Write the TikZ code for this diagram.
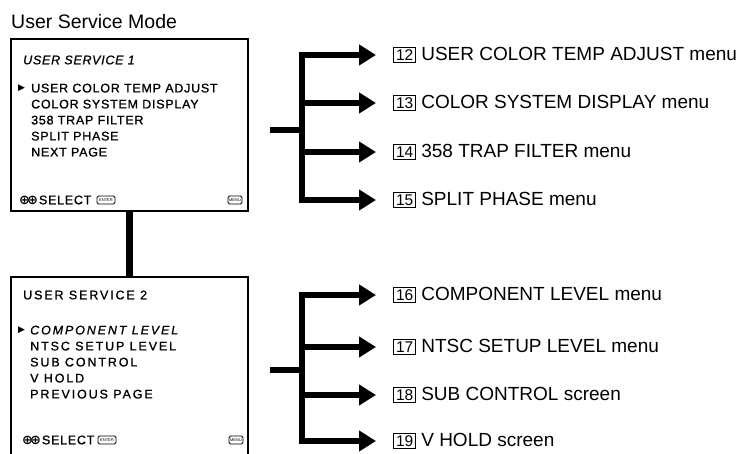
\documentclass[tikz,border=0pt]{standalone}
\usepackage{fontspec}
\setmainfont{Liberation Sans}
\newfontfamily\osdfont[LetterSpace=6, FakeBold=1]{Liberation Sans}
\newfontfamily\osdwidefont[LetterSpace=15, FakeBold=1]{Liberation Sans}
\newfontfamily\symfont{DejaVu Sans}
\usetikzlibrary{arrows.meta, positioning}

\newcommand{\numbox}[1]{{\setlength\fboxsep{2pt}\setlength\fboxrule{0.8pt}\fbox{\fontsize{15.5}{15}\selectfont #1}}}

\begin{document}
\begin{tikzpicture}[
    x=1pt, y=-1pt,
    osdbox/.style={draw, line width=1.4pt, inner sep=0, outer sep=0},
    osdtext/.style={inner sep=0, align=left, font=\osdfont\fontsize{12.5}{16}\selectfont},
    osdwide/.style={osdtext, font=\osdwidefont\fontsize{12.5}{16}\selectfont},
    cursor/.style={anchor=west, inner sep=0, font=\symfont\fontsize{9}{9}\selectfont},
    keyicon/.style={draw, line width=0.9pt, rounded corners=1.5pt, inner sep=0.5pt, minimum height=8pt, font=\fontsize{4}{4}\selectfont},
    menulabel/.style={inner sep=0, anchor=west, font=\fontsize{19}{20}\selectfont},
    bar/.style={line width=6pt},
    arrow/.style={bar, -{Triangle[length=17pt,width=20pt]}, shorten >=17pt}
]
\useasboundingbox (0,0) rectangle (752,453);

% Title
\node[anchor=west, inner sep=0, font=\fontsize{19.5}{20}\selectfont] (title) at (11,22) {User Service Mode};

% Screens
\node[osdbox, minimum width=237pt, minimum height=172pt] (box1) at (129.5,125) {};
\node[osdbox, minimum width=237pt, minimum height=193pt] (box2) at (129.5,373.5) {};
\draw[line width=7.5pt] (box1.south) -- (box2.north);

% Screen 1
\node[osdtext, anchor=west, font=\osdfont\itshape\fontsize{12.5}{16}\selectfont] (head1) at (23,60) {USER SERVICE 1};
\node[cursor] (cur1) at (18,88) {▶};
\node[osdtext, anchor=north west] (list1) at (31,83.5) {USER COLOR TEMP ADJUST\\COLOR SYSTEM DISPLAY\\358 TRAP FILTER\\SPLIT PHASE\\NEXT PAGE};
\node[osdtext, anchor=west] (sel1) at (19,200) {{\symfont\bfseries\fontsize{13}{12}\selectfont ⊕\kern-3pt⊕}\kern1pt SELECT};
\node[keyicon, minimum width=18pt, right=5pt of sel1] (enter1) {ENTER};
\node[keyicon, minimum width=14pt] (menu1) at (235,200) {MENU};

% Screen 2
\node[osdwide, anchor=west] (head2) at (23,295) {USER SERVICE 2};
\node[cursor] (cur2) at (18,330) {▶};
\node[osdwide, anchor=north west] (list2) at (30,325.5) {{\itshape COMPONENT LEVEL}\\NTSC SETUP LEVEL\\SUB CONTROL\\V HOLD\\PREVIOUS PAGE};
\node[osdtext, anchor=west] (sel2) at (22,440) {{\symfont\bfseries\fontsize{13}{12}\selectfont ⊕\kern-3pt⊕}\kern1pt SELECT};
\node[keyicon, minimum width=18pt, right=3pt of sel2] (enter2) {ENTER};
\node[keyicon, minimum width=14pt] (menu2) at (236,440) {MENU};

% Menus reached from screen 1
\node[menulabel] (l12) at (393,55) {\numbox{12} USER COLOR TEMP ADJUST menu};
\node[menulabel] (l13) at (393,103) {\numbox{13} COLOR SYSTEM DISPLAY menu};
\node[menulabel] (l14) at (393,152) {\numbox{14} 358 TRAP FILTER menu};
\node[menulabel] (l15) at (393,200) {\numbox{15} SPLIT PHASE menu};

% Menus reached from screen 2
\node[menulabel] (l16) at (393,295) {\numbox{16} COMPONENT LEVEL menu};
\node[menulabel] (l17) at (393,347) {\numbox{17} NTSC SETUP LEVEL menu};
\node[menulabel] (l18) at (393,395) {\numbox{18} SUB CONTROL screen};
\node[menulabel] (l19) at (393,441) {\numbox{19} V HOLD screen};

% Branches
\coordinate (stubA) at (270,130);
\coordinate (busA) at (302,130);
\coordinate (stubB) at (270,370);
\coordinate (busB) at (302,370);

\draw[bar] (stubA) -- (busA);
\draw[bar, line cap=rect] (busA |- l12.west) -- (busA |- l15.west);
\foreach \n in {12,...,15}
    \draw[arrow] (busA |- l\n.west) -- (l\n.west);

\draw[bar] (stubB) -- (busB);
\draw[bar, line cap=rect] (busB |- l16.west) -- (busB |- l19.west);
\foreach \n in {16,...,19}
    \draw[arrow] (busB |- l\n.west) -- (l\n.west);

\end{tikzpicture}
\end{document}
